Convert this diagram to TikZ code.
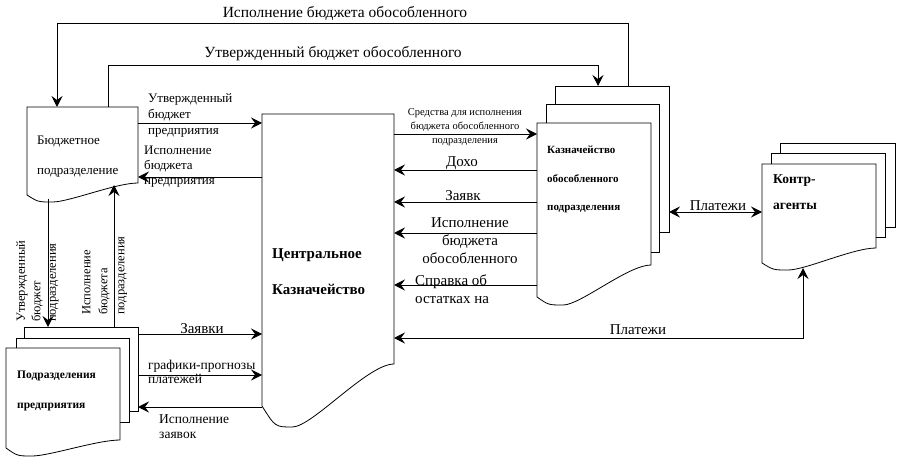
\documentclass[tikz,border=0pt]{standalone}
\usepackage{fontspec}
\setmainfont{Liberation Serif}
\usetikzlibrary{arrows.meta}
\newcommand\myfs[2]{\fontsize{#1}{#2}\selectfont}
% L T R yl yr ydip
\newcommand\docshape[6]{%
  \draw[docline] (#1,#4) -- (#1,#2) -- (#3,#2) -- (#3,#5)
    .. controls ({#3-0.2*(#3-#1)},#5) and ({#1+0.38*(#3-#1)},#6) .. ({#1+0.23*(#3-#1)},#6)
    .. controls ({#1+0.1*(#3-#1)},#6) .. (#1,#4) -- cycle;}
\tikzset{
  docline/.style={draw, line width=0.8pt},
  body/.style={rectangle, inner sep=0pt, outer sep=0pt, draw=none, anchor=north west},
  conn/.style={line width=0.9pt, -{Stealth[length=11pt,width=11pt,inset=4pt]}},
  dconn/.style={line width=0.9pt, {Stealth[length=11pt,width=11pt,inset=4pt]}-{Stealth[length=11pt,width=11pt,inset=4pt]}},
  lbl/.style={inner sep=0pt, align=left},
}
\begin{document}
\begin{tikzpicture}[x=1pt,y=-1pt]
\useasboundingbox (0,0) rectangle (900,465);
% bodies
\node[body, minimum width=111pt, minimum height=76pt] (bud) at (27,107) {};
\node[body, minimum width=132pt, minimum height=250pt] (cent) at (262,114) {};
\node[body, minimum width=114pt, minimum height=146pt] (kz3) at (555,86) {};
\node[body, minimum width=113pt, minimum height=148pt] (kz2) at (546,104) {};
\node[body, minimum width=114pt, minimum height=142pt] (kz1) at (537,123) {};
\node[body, minimum width=115pt, minimum height=84pt] (kt3) at (780,143) {};
\node[body, minimum width=114pt, minimum height=84pt] (kt2) at (771,153) {};
\node[body, minimum width=114pt, minimum height=84pt] (kt1) at (762,164) {};
\node[body, minimum width=114pt, minimum height=84pt] (pd3) at (24,327) {};
\node[body, minimum width=113pt, minimum height=84pt] (pd2) at (16,338) {};
\node[body, minimum width=114pt, minimum height=92pt] (pd1) at (6,348) {};
% outlines
\docshape{27}{107}{138}{195}{183}{202}
\docshape{262}{114}{394}{406}{364}{427}
\docshape{537}{123}{651}{297}{265}{305}
\docshape{762}{164}{876}{263}{248}{270}
\docshape{6}{348}{120}{448}{440}{456}
\draw[docline] (kz2.north -| kz3.west) -- (kz3.north west) -- (kz3.north east) -- (kz3.south east) -- (kz3.south -| kz2.east);
\draw[docline] (kz1.north -| kz2.west) -- (kz2.north west) -- (kz2.north east) -- (kz2.south east) -- (kz2.south -| kz1.east);
\draw[docline] (kt2.north -| kt3.west) -- (kt3.north west) -- (kt3.north east) -- (kt3.south east) -- (kt3.south -| kt2.east);
\draw[docline] (kt1.north -| kt2.west) -- (kt2.north west) -- (kt2.north east) -- (kt2.south east) -- (kt2.south -| kt1.east);
\draw[docline] (pd2.north -| pd3.west) -- (pd3.north west) -- (pd3.north east) -- (pd3.south east) -- (pd3.south -| pd2.east);
\draw[docline] (pd1.north -| pd2.west) -- (pd2.north west) -- (pd2.north east) -- (pd2.south east) -- (pd2.south -| pd1.east);
% connectors
\draw[conn] (kz3.north -| 628,0) -- (628,23) -| (bud.north -| 57,0);
\draw[conn] (bud.north -| 108,0) -- (108,65) -| (kz3.north -| 598,0);
\draw[conn] (bud.east |- 0,123) -- (cent.west |- 0,123);
\draw[conn] (cent.west |- 0,177) -- (bud.east |- 0,177);
\draw[conn] (48,199) -- (pd3.north -| 48,0);
\draw[conn] (pd3.north -| 114,0) -- (114,185);
\draw[conn] (pd3.east |- 0,334) -- (cent.west |- 0,334);
\draw[conn] (pd3.east |- 0,375) -- (cent.west |- 0,375);
\draw[conn] (cent.west |- 0,407) -- (pd3.east |- 0,407);
\draw[conn] (cent.east |- 0,134) -- (kz1.west |- 0,134);
\foreach \yy in {170,202,233,285} \draw[conn] (kz1.west |- 0,\yy) -- (cent.east |- 0,\yy);
\draw[dconn] (kz3.east |- 0,212) -- (kt1.west |- 0,212);
\draw[dconn] (cent.east |- 0,338) -| (803,268);
% labels
\node[lbl, font=\myfs{15.5}{18}] (tA) at (345,13) {Исполнение бюджета обособленного};
\node[lbl, font=\myfs{15.5}{18}] (tB) at (333,54) {Утвержденный бюджет обособленного};
\node[lbl, anchor=north west, font=\myfs{13}{16}] (tC) at (148,93) {Утвержденный\\бюджет\\предприятия};
\node[lbl, anchor=north west, font=\myfs{13}{15}] (tD) at (144,146) {Исполнение\\бюджета\\предприятия};
\node[lbl, anchor=north west, font=\myfs{13}{30}] (tE) at (37,136) {Бюджетное\\подразделение};
\node[lbl, rotate=90, anchor=north west, font=\myfs{12.5}{15.5}] (tF) at (16,322) {Утвержденный\\бюджет\\подразделения};
\node[lbl, rotate=90, anchor=north west, font=\myfs{12.5}{17}] (tG) at (82,315) {Исполнение\\бюджета\\подразделения};
\node[lbl, font=\myfs{15}{18}] (tH) at (202,329) {Заявки};
\node[lbl, anchor=north west, font=\myfs{13.5}{14}] (tI) at (148,360) {графики-прогнозы\\платежей};
\node[lbl, anchor=north west, font=\myfs{13.5}{15}] (tJ) at (159,414) {Исполнение\\заявок};
\node[lbl, anchor=north west, font=\bfseries\myfs{15}{36}] (tK) at (272,248) {Центральное\\Казначейство};
\node[lbl, align=center, anchor=north, font=\myfs{10.5}{14}] (tL) at (465,108) {Средства для исполнения\\бюджета обособленного\\подразделения};
\node[lbl, font=\myfs{15}{18}] (tM) at (462,163) {Дохо};
\node[lbl, font=\myfs{15}{18}] (tN) at (463,196) {Заявк};
\node[lbl, align=center, anchor=north, font=\myfs{15}{18}] (tO) at (470,217) {Исполнение\\бюджета\\обособленного};
\node[lbl, anchor=north west, font=\myfs{15}{18}] (tP) at (415,275) {Справка об\\остатках на};
\node[lbl, anchor=north west, font=\bfseries\myfs{11}{28.5}] (tQ) at (547,146) {Казначейство\\обособленного\\подразделения};
\node[lbl, font=\myfs{15}{18}] (tR) at (718,206) {Платежи};
\node[lbl, anchor=north west, font=\bfseries\myfs{13.5}{26}] (tS) at (773,174) {Контр-\\агенты};
\node[lbl, font=\myfs{15}{18}] (tT) at (638,330) {Платежи};
\node[lbl, anchor=north west, font=\bfseries\myfs{11.5}{30}] (tU) at (17,371) {Подразделения\\предприятия};
\end{tikzpicture}
\end{document}
